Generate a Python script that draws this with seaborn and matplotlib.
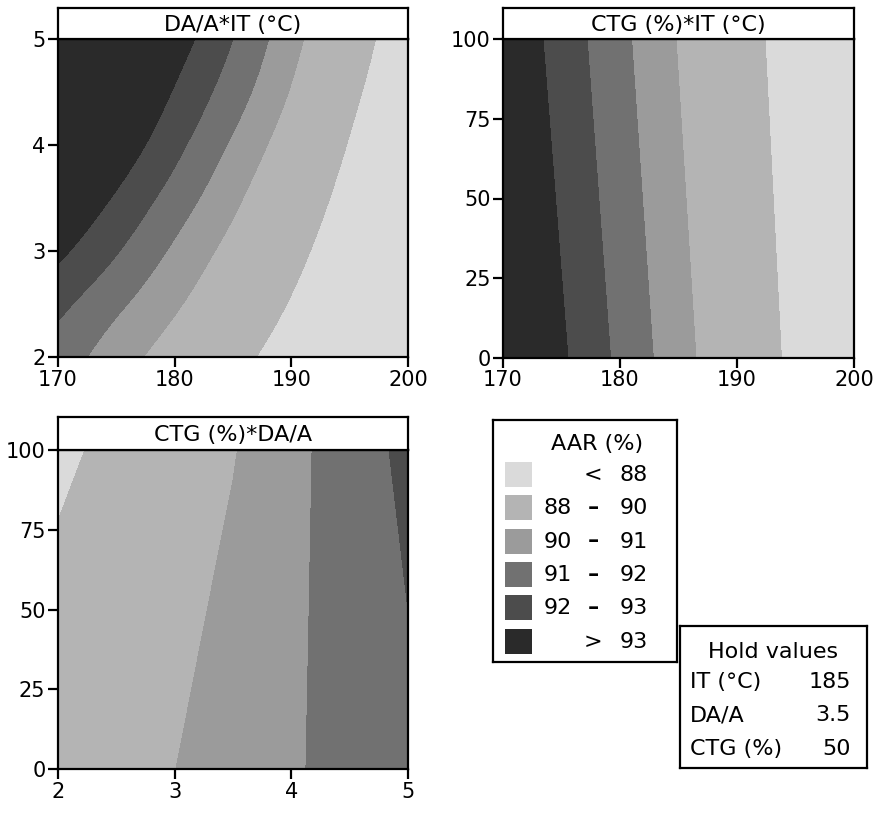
import numpy as np
import pandas as pd
import matplotlib
matplotlib.use("Agg")
import matplotlib.pyplot as plt
from matplotlib.patches import Rectangle
from matplotlib.tri import Triangulation, UniformTriRefiner, CubicTriInterpolator
import seaborn as sns

# ---------------- data ----------------
level_bounds = [80, 88, 90, 91, 92, 93, 100]
band_colors = ["#dadada", "#b4b4b4", "#9b9b9b", "#717171", "#4c4c4c", "#2a2a2a"]
legend_lo = ["", "88", "90", "91", "92", ""]
legend_sep = ["<", "\u2013", "\u2013", "\u2013", "\u2013", ">"]
legend_hi = ["88", "90", "91", "92", "93", "93"]

# Panel 1: AAR over IT (x) and DA/A (y)
it_grid = [170, 175, 180, 185, 190, 195, 200]
daa_rows = [2.0, 2.5, 3.0, 3.5, 4.0, 4.5, 5.0]
aar_daa_it = [
    [91.52, 90.48, 89.44, 88.41, 87.38, 86.35, 85.32],
    [92.28, 91.20, 90.15, 89.03, 87.91, 86.78, 85.71],
    [93.23, 92.07, 90.83, 89.63, 88.40, 87.17, 85.94],
    [94.13, 92.88, 91.57, 90.23, 88.89, 87.54, 86.19],
    [95.10, 93.70, 92.29, 90.85, 89.40, 87.92, 86.42],
    [95.85, 94.38, 92.92, 91.48, 89.92, 88.33, 86.78],
    [96.51, 95.01, 93.51, 92.00, 90.35, 88.72, 87.08],
]

# Panel 2: AAR over IT (x) and CTG (y)
it_edges = [170, 200]
ctg_edges = [0, 100]
aar_ctg_it = [
    [94.52, 86.30],
    [93.89, 86.00],
]

# Panel 3: AAR over DA/A (x) and CTG (y)
daa_grid = [2.0, 2.5, 3.0, 3.5, 4.0, 4.5, 5.0]
ctg_rows = [0, 50, 100]
aar_ctg_daa = [
    [88.84, 89.41, 89.99, 90.44, 90.88, 91.36, 91.84],
    [88.44, 89.06, 89.67, 90.26, 90.82, 91.41, 92.00],
    [87.65, 88.41, 89.18, 89.94, 90.73, 91.49, 92.25],
]

panel_titles = ["DA/A*IT (\u00b0C)", "CTG (%)*IT (\u00b0C)", "CTG (%)*DA/A"]
hold_names = ["IT (\u00b0C)", "DA/A", "CTG (%)"]
hold_values = ["185", "3.5", "50"]

# ---------------- style ----------------
sns.set_theme(style="ticks")
plt.rcParams['font.family'] = ['DejaVu Sans']
plt.rcParams['text.color'] = 'black'
FS = 15
FS_T = 16
palette = sns.color_palette(band_colors)

fig = plt.figure(figsize=(8.75, 8.14), dpi=100)
W, H = 875.0, 814.0


def px_axes(l, t, r, b):
    return fig.add_axes([l / W, 1 - b / H, (r - l) / W, (b - t) / H])


def smooth_contour(ax, x, y, z):
    """Filled contours of a curved surface, smoothed with matplotlib's cubic tri interpolator."""
    x = np.asarray(x, float)
    y = np.asarray(y, float)
    Z = np.asarray(z, float)
    # work in unit square so both axes weigh the same for the interpolator
    U, V = np.meshgrid((x - x.min()) / np.ptp(x), (y - y.min()) / np.ptp(y))
    ny, nx = Z.shape
    tris = []
    for j in range(ny - 1):
        for i in range(nx - 1):
            a = j * nx + i
            tris.append([a, a + 1, a + nx + 1])
            tris.append([a, a + nx + 1, a + nx])
    tri = Triangulation(U.ravel(), V.ravel(), tris)
    interp = CubicTriInterpolator(tri, Z.ravel(), kind="min_E")
    tri_f, zf = UniformTriRefiner(tri).refine_field(Z.ravel(), triinterpolator=interp, subdiv=4)
    tri_d = Triangulation(x.min() + tri_f.x * np.ptp(x), y.min() + tri_f.y * np.ptp(y),
                          tri_f.triangles)
    ax.tricontourf(tri_d, zf, levels=level_bounds, colors=palette, antialiased=False)


def draw_panel(rect, strip_top, x, y, z, xlim, ylim, xticks, yticks, title, smooth):
    l, t, r, b = rect
    ax = px_axes(l, t, r, b)
    if smooth:
        smooth_contour(ax, x, y, z)
    else:
        ax.contourf(x, y, np.array(z), levels=level_bounds, colors=palette,
                    antialiased=False)
    ax.set_xlim(*xlim)
    ax.set_ylim(*ylim)
    ax.set_xticks(xticks)
    ax.set_yticks(yticks)
    ax.tick_params(direction="out", length=7, width=1.6, labelsize=FS,
                   pad=2, colors="black")
    for s in ax.spines.values():
        s.set_linewidth(1.6)
        s.set_color("black")
    ax.set_xlabel("")
    ax.set_ylabel("")
    st = px_axes(l, strip_top, r, t)
    st.set_xticks([])
    st.set_yticks([])
    st.set_facecolor("white")
    for s in st.spines.values():
        s.set_linewidth(1.6)
        s.set_color("black")
    st.text(0.5, 0.45, title, ha="center", va="center", fontsize=FS_T,
            color="black", transform=st.transAxes)
    return ax


draw_panel((58, 39, 408, 357), 8, it_grid, daa_rows, aar_daa_it,
           (170, 200), (2, 5), [170, 180, 190, 200], [2, 3, 4, 5], panel_titles[0], True)
draw_panel((503, 39, 854, 358), 8, it_edges, ctg_edges, aar_ctg_it,
           (170, 200), (0, 100), [170, 180, 190, 200], [0, 25, 50, 75, 100], panel_titles[1], False)
draw_panel((58, 450, 408, 769), 417, daa_grid, ctg_rows, aar_ctg_daa,
           (2, 5), (0, 100), [2, 3, 4, 5], [0, 25, 50, 75, 100], panel_titles[2], False)

# ---------------- legend box ----------------
lg = px_axes(493, 420, 677, 662)
lg.set_xlim(0, 184)
lg.set_ylim(242, 0)
lg.set_xticks([])
lg.set_yticks([])
for s in lg.spines.values():
    s.set_linewidth(1.6)
    s.set_color("black")
lg.text(104, 24, "AAR (%)", ha="center", va="center", fontsize=FS_T, color="black")
for i, c in enumerate(palette):
    top = 41.7 + i * 33.4
    lg.add_patch(Rectangle((12, top), 27, 25, facecolor=c, edgecolor="none"))
    yc = top + 13
    lg.text(79, yc, legend_lo[i], ha="right", va="center", fontsize=FS_T, color="black")
    lg.text(100, yc, legend_sep[i], ha="center", va="center", fontsize=FS_T,
            color="black", fontweight="bold" if legend_sep[i] == "\u2013" else "normal")
    lg.text(155, yc, legend_hi[i], ha="right", va="center", fontsize=FS_T, color="black")

# ---------------- hold values box ----------------
hb = px_axes(680, 626, 867, 768)
hb.set_xlim(0, 187)
hb.set_ylim(142, 0)
hb.set_xticks([])
hb.set_yticks([])
for s in hb.spines.values():
    s.set_linewidth(1.6)
    s.set_color("black")
hb.text(93, 26, "Hold values", ha="center", va="center", fontsize=FS_T, color="black")
for i, (n, v) in enumerate(zip(hold_names, hold_values)):
    yc = 56 + i * 33.3
    hb.text(10, yc, n, ha="left", va="center", fontsize=FS_T, color="black")
    hb.text(171, yc, v, ha="right", va="center", fontsize=FS_T, color="black")

fig.savefig("out.png", dpi=100, facecolor="white")
